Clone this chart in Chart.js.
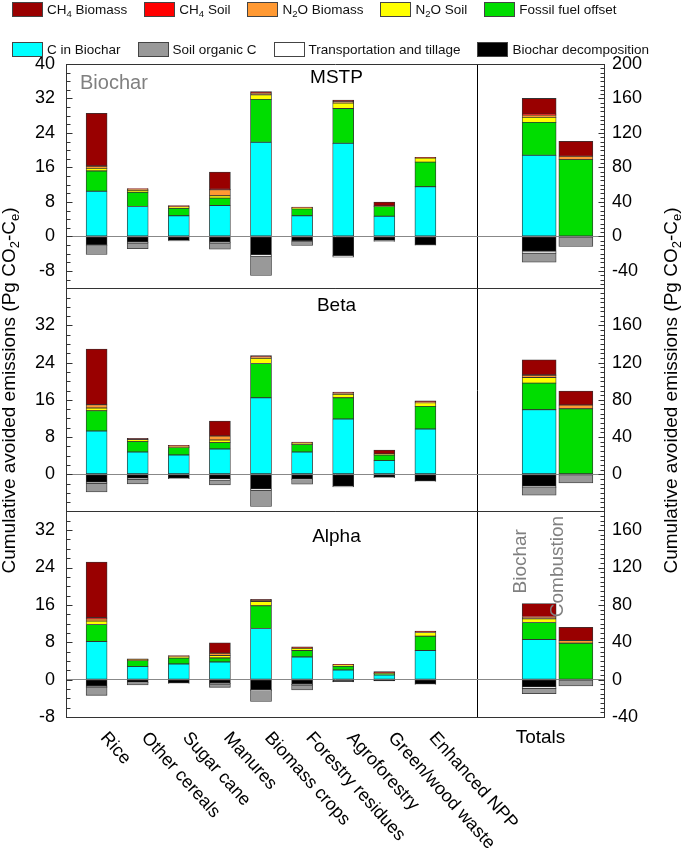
<!DOCTYPE html>
<html lang="en">
<head>
<meta charset="utf-8">
<title>Cumulative avoided emissions</title>
<script src="https://cdn.jsdelivr.net/npm/chart.js@4.4.1/dist/chart.umd.min.js"></script>
<style>
  body { margin: 0; background: #fff; }
  #wrap { position: relative; width: 685px; height: 858px; font-family: "Liberation Sans", Arial, sans-serif; }
  #chart { position: absolute; left: 0; top: 0; }
  .legend-row { position: absolute; left: 12px; display: flex; align-items: center; font-size: 13.5px; color: #111; white-space: nowrap; }
  .legend-item { display: flex; align-items: center; margin-right: 17px; }
  .legend-box { width: 31px; height: 15px; box-sizing: border-box; border: 1px solid #444; margin-right: 4px; }
  .legend-row sub { font-size: 9.5px; vertical-align: -3px; line-height: 0; }
</style>
</head>
<body>
<div id="wrap">
  <canvas id="chart" width="685" height="858"></canvas>
  <div class="legend-row" id="legendRow1" style="top:2px"></div>
  <div class="legend-row" id="legendRow2" style="top:42px"></div>
</div>
<script>
// ===== DATOS =====
const categories = ['Rice', 'Other cereals', 'Sugar cane', 'Manures', 'Biomass crops',
  'Forestry residues', 'Agroforestry', 'Green/wood waste', 'Enhanced NPP'];
const totalBars = ['Biochar', 'Combustion'];

const seriesNames = ['CH4 Biomass', 'CH4 Soil', 'N2O Biomass', 'N2O Soil', 'Fossil fuel offset',
  'C in Biochar', 'Soil organic C', 'Transportation and tillage', 'Biochar decomposition'];
const seriesColors = ['#990000', '#ff0000', '#ff9933', '#ffff00', '#00dd00',
  '#00ffff', '#999999', '#ffffff', '#000000'];
// order of the segments from the zero line outwards (positives up, negatives down)
const stackOrder = [5, 4, 3, 2, 1, 0, 8, 7, 6];

// tick labels (left axis Pg C, right axis Pg CO2-Ce)
const mstpTicks = [-8, 0, 8, 16, 24, 32, 40];
const betaTicks = [0, 8, 16, 24, 32];
const alphaTicks = [-8, 0, 8, 16, 24, 32];
const mstpTicksRight = [-40, 0, 40, 80, 120, 160, 200];
const betaTicksRight = [0, 40, 80, 120, 160];
const alphaTicksRight = [-40, 0, 40, 80, 120, 160];

// MSTP, per category (left axis)
const mstpCH4Biomass = [12.15, 0.15, 0.27, 4.0, 0.38, 0.15, 0.4, 0.92, 0.15];
const mstpCH4Soil    = [0.1, 0, 0, 0.1, 0, 0, 0, 0, 0];
const mstpN2OBiomass = [0.5, 0.25, 0.1, 1.4, 0.4, 0.05, 0.3, 0, 0.05];
const mstpN2OSoil    = [0.6, 0.45, 0.25, 0.55, 1.05, 0.2, 1.23, 0.15, 0.93];
const mstpFossil     = [4.7, 3.3, 1.75, 1.7, 9.95, 1.6, 8.1, 2.23, 5.7];
const mstpCBiochar   = [10.5, 6.95, 4.8, 7.2, 21.85, 4.8, 21.6, 4.7, 11.55];
const mstpSoilC      = [-2.1, -1.35, 0, -1.45, -4.5, -1.0, 0, 0, 0];
const mstpTransport  = [-0.15, -0.2, -0.1, -0.2, -0.3, -0.1, -0.38, -0.2, -0.1];
const mstpDecomp     = [-1.93, -1.3, -0.93, -1.3, -4.24, -1.0, -4.4, -0.93, -1.93];
// MSTP totals [Biochar, Combustion] (right axis)
const mstpTotCH4Biomass = [18.2, 17.3];
const mstpTotCH4Soil    = [1.1, 0];
const mstpTotN2OBiomass = [2.7, 3.9];
const mstpTotN2OSoil    = [5.8, 0];
const mstpTotFossil     = [38.2, 89.1];
const mstpTotCBiochar   = [94.1, 0];
const mstpTotSoilC      = [-10.4, -11.6];
const mstpTotTransport  = [-2.3, 0];
const mstpTotDecomp     = [-17.0, 0];

// Beta
const betaCH4Biomass = [11.95, 0.29, 0.25, 3.21, 0.33, 0.22, 0.3, 0.85, 0.25];
const betaCH4Soil    = [0, 0, 0, 0, 0, 0, 0, 0, 0];
const betaN2OBiomass = [0.72, 0, 0.05, 0.86, 0.25, 0.05, 0.2, 0, 0.18];
const betaN2OSoil    = [0.57, 0.43, 0.2, 0.57, 1.14, 0.3, 0.72, 0.2, 0.79];
const betaFossil     = [4.36, 2.22, 1.57, 1.36, 7.37, 1.58, 4.58, 1.22, 4.86];
const betaCBiochar   = [9.3, 4.79, 4.15, 5.44, 16.45, 4.79, 11.87, 2.93, 9.73];
const betaSoilC      = [-1.86, -1.0, 0, -1.07, -3.51, -1.01, 0, 0, 0];
const betaTransport  = [-0.21, -0.21, -0.1, -0.22, -0.28, -0.14, -0.12, -0.1, -0.1];
const betaDecomp     = [-1.72, -0.86, -0.86, -1.0, -3.15, -1.0, -2.58, -0.64, -1.43];
const betaTotCH4Biomass = [16.1, 15.0];
const betaTotCH4Soil    = [0.7, 0];
const betaTotN2OBiomass = [2.2, 4.0];
const betaTotN2OSoil    = [6.1, 0];
const betaTotFossil     = [28.6, 70.4];
const betaTotCBiochar   = [69.4, 0];
const betaTotSoilC      = [-8.2, -9.3];
const betaTotTransport  = [-1.4, 0];
const betaTotDecomp     = [-12.9, 0];

// Alpha
const alphaCH4Biomass = [11.95, 0.15, 0.2, 2.22, 0.25, 0.29, 0.18, 0.33, 0.18];
const alphaCH4Soil    = [0.21, 0, 0, 0, 0, 0, 0, 0, 0];
const alphaN2OBiomass = [0.5, 0, 0.05, 0.5, 0.18, 0, 0, 0, 0.1];
const alphaN2OSoil    = [0.72, 0.2, 0.25, 0.5, 0.93, 0.5, 0.25, 0.1, 0.79];
const alphaFossil     = [3.65, 1.29, 1.29, 0.86, 4.87, 1.36, 0.79, 0.29, 3.08];
const alphaCBiochar   = [8.15, 2.79, 3.36, 3.79, 10.94, 4.86, 2.07, 1.0, 6.22];
const alphaSoilC      = [-1.71, -0.5, 0, -0.72, -2.29, -1.08, 0, 0, 0];
const alphaTransport  = [-0.22, -0.07, -0.1, -0.14, -0.21, -0.14, -0.07, -0.07, -0.1];
const alphaDecomp     = [-1.43, -0.57, -0.72, -0.79, -2.15, -1.0, -0.43, -0.21, -0.93];
const alphaTotCH4Biomass = [13.9, 14.3];
const alphaTotCH4Soil    = [0.7, 0];
const alphaTotN2OBiomass = [1.8, 2.8];
const alphaTotN2OSoil    = [4.0, 0];
const alphaTotFossil     = [18.2, 39.0];
const alphaTotCBiochar   = [42.9, 0];
const alphaTotSoilC      = [-5.7, -6.8];
const alphaTotTransport  = [-1.4, 0];
const alphaTotDecomp     = [-7.9, 0];

// ===== PANELES =====
const FONT = '"Liberation Sans", Arial, sans-serif';
const FRAME = '#333';
const RIGHT_FACTOR = 5; // right axis = 5 x left axis

const panels = [
  { id: 'T', title: 'MSTP', yMin: -12, yMax: 40, height: 225.6, titleAt: 36.9,
    ticks: mstpTicks, ticksRight: mstpTicksRight,
    values: [mstpCH4Biomass, mstpCH4Soil, mstpN2OBiomass, mstpN2OSoil, mstpFossil,
      mstpCBiochar, mstpSoilC, mstpTransport, mstpDecomp],
    totals: [mstpTotCH4Biomass, mstpTotCH4Soil, mstpTotN2OBiomass, mstpTotN2OSoil, mstpTotFossil,
      mstpTotCBiochar, mstpTotSoilC, mstpTotTransport, mstpTotDecomp] },
  { id: 'M', title: 'Beta', yMin: -8, yMax: 40, height: 224.6, titleAt: 36.3,
    ticks: betaTicks, ticksRight: betaTicksRight,
    values: [betaCH4Biomass, betaCH4Soil, betaN2OBiomass, betaN2OSoil, betaFossil,
      betaCBiochar, betaSoilC, betaTransport, betaDecomp],
    totals: [betaTotCH4Biomass, betaTotCH4Soil, betaTotN2OBiomass, betaTotN2OSoil, betaTotFossil,
      betaTotCBiochar, betaTotSoilC, betaTotTransport, betaTotDecomp] },
  { id: 'B', title: 'Alpha', yMin: -8, yMax: 36, height: 206.8, titleAt: 30.5,
    ticks: alphaTicks, ticksRight: alphaTicksRight,
    values: [alphaCH4Biomass, alphaCH4Soil, alphaN2OBiomass, alphaN2OSoil, alphaFossil,
      alphaCBiochar, alphaSoilC, alphaTransport, alphaDecomp],
    totals: [alphaTotCH4Biomass, alphaTotCH4Soil, alphaTotN2OBiomass, alphaTotN2OSoil, alphaTotFossil,
      alphaTotCBiochar, alphaTotSoilC, alphaTotTransport, alphaTotDecomp] }
];

const axisTitle = [['Cumulative avoided emissions (Pg CO', false], ['2', true], ['-C', false], ['e', true], [')', false]];

// ===== DATASETS =====
const datasets = [];
panels.forEach(p => {
  stackOrder.forEach(s => {
    const common = {
      label: seriesNames[s],
      backgroundColor: seriesColors[s],
      borderColor: FRAME,
      borderWidth: 0.8,
      borderSkipped: false
    };
    datasets.push({ ...common, xAxisID: 'xL', yAxisID: 'y' + p.id, barThickness: 21,
      data: p.values[s].map((v, i) => ({ x: i + 1, y: v || null })) });
    datasets.push({ ...common, xAxisID: 'xR', yAxisID: 'r' + p.id, barThickness: 34,
      data: p.totals[s].map((v, i) => ({ x: i + 1, y: v || null })) });
  });
});

// ===== ESCALAS =====
const scales = {
  xL: { type: 'linear', position: 'bottom', stack: 'x', stackWeight: 411, weight: 1,
    min: 0, max: 10, offset: false, stacked: true,
    ticks: { display: false, stepSize: 1 },
    border: { display: true, color: FRAME },
    grid: { offset: false, drawTicks: false,
      color: c => c.tick && c.tick.value === 10 ? '#000' : 'rgba(0,0,0,0)' } },
  xR: { type: 'linear', position: 'bottom', stack: 'x', stackWeight: 127, weight: 2,
    min: -0.23, max: 3.23, offset: false, stacked: true,
    ticks: { display: false },
    border: { display: true, color: FRAME },
    grid: { display: false, offset: false } }
};

panels.forEach((p, k) => {
  scales['y' + p.id] = {
    type: 'linear', position: 'left', stack: 'left', stackWeight: p.height, weight: 3 - k,
    min: p.yMin, max: p.yMax, stacked: true,
    afterFit: s => { s.width = 66; },
    border: { display: true, color: FRAME },
    grid: {
      color: c => {
        if (!c.tick) return 'rgba(0,0,0,0)';
        if (c.tick.value === 0) return '#888';
        if (c.tick.value === p.yMin || c.tick.value === p.yMax) return FRAME;
        return 'rgba(0,0,0,0)';
      },
      drawTicks: false
    },
    ticks: { stepSize: 2, autoSkip: false, maxTicksLimit: 200, padding: 11, color: '#000',
      font: { size: 18, family: FONT },
      callback: v => p.ticks.includes(v) ? String(v) : '' }
  };
  scales['r' + p.id] = {
    type: 'linear', position: 'right', stack: 'right', stackWeight: p.height, weight: k + 1,
    min: p.yMin * RIGHT_FACTOR, max: p.yMax * RIGHT_FACTOR, stacked: true,
    afterFit: s => { s.width = 81; },
    border: { display: true, color: FRAME },
    grid: { drawOnChartArea: false, drawTicks: false },
    ticks: { stepSize: 5, autoSkip: false, maxTicksLimit: 200, padding: 8, color: '#000',
      font: { size: 18, family: FONT },
      callback: v => p.ticksRight.includes(v) ? String(v) : '' }
  };
});

// tick marks pointing into the plot, longer where a label is shown
const innerTicks = {
  id: 'innerTicks',
  afterDraw(chart) {
    const ctx = chart.ctx;
    ctx.save();
    ctx.strokeStyle = '#333';
    ctx.lineWidth = 1;
    Object.keys(chart.scales).forEach(id => {
      const scale = chart.scales[id];
      if (scale.isHorizontal()) return;
      const isLeft = scale.options.position === 'left';
      const edge = Math.round(isLeft ? scale.right : scale.left) + 0.5;
      scale.ticks.forEach(t => {
        const len = t.label ? 6 : 4;
        const y = Math.round(scale.getPixelForValue(t.value)) + 0.5;
        ctx.beginPath();
        ctx.moveTo(edge, y);
        ctx.lineTo(isLeft ? edge + len : edge - len, y);
        ctx.stroke();
      });
    });
    ctx.restore();
  }
};

// ===== TEXTOS =====
function drawRich(ctx, parts, size) {
  const subSize = Math.round(size * 0.68);
  let total = 0;
  parts.forEach(([t, sub]) => {
    ctx.font = (sub ? subSize : size) + 'px ' + FONT;
    total += ctx.measureText(t).width;
  });
  let x = -total / 2;
  parts.forEach(([t, sub]) => {
    ctx.font = (sub ? subSize : size) + 'px ' + FONT;
    ctx.fillText(t, x, sub ? size * 0.3 : 0);
    x += ctx.measureText(t).width;
  });
}

const textLayer = {
  id: 'textLayer',
  afterDraw(chart) {
    const { ctx, chartArea: area, scales: sc } = chart;
    ctx.save();
    ctx.fillStyle = '#000';

    // category names, slanted
    ctx.font = '18px ' + FONT;
    ctx.textAlign = 'left';
    ctx.textBaseline = 'top';
    categories.forEach((name, i) => {
      ctx.save();
      ctx.translate(sc.xL.getPixelForValue(i + 1) + 3, area.bottom + 12);
      ctx.rotate(48 * Math.PI / 180);
      ctx.fillText(name, 0, 0);
      ctx.restore();
    });

    ctx.font = '19px ' + FONT;
    ctx.textAlign = 'center';
    ctx.textBaseline = 'middle';
    ctx.fillText('Totals', sc.xR.getPixelForValue(1.5), area.bottom + 21);

    panels.forEach(p => {
      ctx.fillText(p.title, sc.xL.getPixelForValue(6.58), sc['y' + p.id].getPixelForValue(p.titleAt));
    });

    // grey labels
    ctx.fillStyle = '#808080';
    ctx.font = '20px ' + FONT;
    ctx.textAlign = 'left';
    ctx.fillText('Biochar', area.left + 14, sc.yT.getPixelForValue(35.4));

    ctx.font = '19px ' + FONT;
    const last = panels[2];
    totalBars.forEach((name, i) => {
      const top = last.totals.reduce((sum, arr) => sum + Math.max(arr[i], 0), 0);
      ctx.save();
      ctx.translate(sc.xR.getPixelForValue(i + 1) - 1, sc['r' + last.id].getPixelForValue(top) - 10);
      ctx.rotate(-Math.PI / 2);
      ctx.fillText(name, 0, 0);
      ctx.restore();
    });

    // axis titles, both read bottom to top
    ctx.fillStyle = '#000';
    ctx.textAlign = 'left';
    const midY = (area.top + area.bottom) / 2;
    [10, 672].forEach(x => {
      ctx.save();
      ctx.translate(x, midY);
      ctx.rotate(-Math.PI / 2);
      drawRich(ctx, axisTitle, 19);
      ctx.restore();
    });
    ctx.restore();
  }
};

// ===== LEYENDA =====
function buildLegend() {
  const rows = [document.getElementById('legendRow1'), document.getElementById('legendRow2')];
  seriesNames.forEach((name, i) => {
    const item = document.createElement('div');
    item.className = 'legend-item';
    const html = name.replace(/^([A-Z]+)(\d)/, '$1<sub>$2</sub>');
    item.innerHTML = `<span class="legend-box" style="background:${seriesColors[i]}"></span><span>${html}</span>`;
    rows[i < 5 ? 0 : 1].appendChild(item);
  });
}

document.addEventListener('DOMContentLoaded', () => {
  buildLegend();
  new Chart(document.getElementById('chart'), {
    type: 'bar',
    data: { datasets },
    options: {
      responsive: false,
      animation: false,
      devicePixelRatio: 1,
      layout: { padding: { top: 64, bottom: 137, left: 0, right: 0 } },
      plugins: { legend: { display: false }, tooltip: { enabled: false } },
      scales
    },
    plugins: [innerTicks, textLayer]
  });
});
</script>
</body>
</html>
